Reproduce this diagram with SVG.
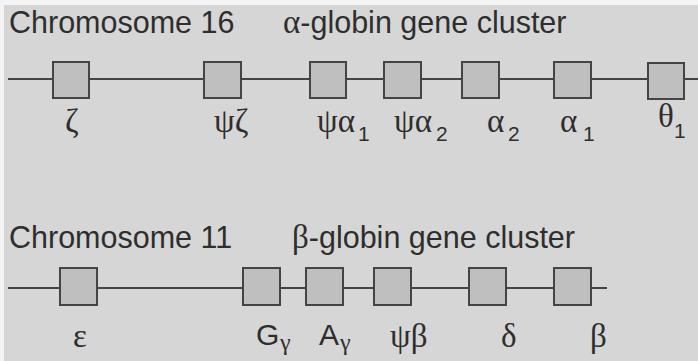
<svg xmlns="http://www.w3.org/2000/svg" width="698" height="361" viewBox="0 0 698 361">
<style>
.bg{fill:#d6d6d6}
.chr{stroke:#444;stroke-width:2;fill:none}
.gene{fill:#bfbfbf;stroke:#444;stroke-width:2}
.title{font-family:"Liberation Sans",Arial,sans-serif;font-size:30.5px;fill:#2e2e2e}
.gr{font-family:"Liberation Serif","Times New Roman",serif;font-size:33px;fill:#2e2e2e}
.sub{font-family:"Liberation Sans",Arial,sans-serif;font-size:21px;fill:#2e2e2e}
.cap{font-family:"Liberation Sans",Arial,sans-serif;font-size:30px;fill:#2e2e2e}
.gsub{font-family:"Liberation Serif","Times New Roman",serif;font-size:24px;fill:#2e2e2e}
.serif{font-family:"Liberation Serif","Times New Roman",serif;font-size:33px}
</style>
<rect width="698" height="361" fill="#f4f4f4"/>
<rect class="bg" x="4" y="5" width="694" height="356"/>

<text class="title" x="9" y="33">Chromosome 16</text>
<text class="title" x="283" y="33"><tspan class="serif">α</tspan>-globin gene cluster</text>
<text class="title" x="9" y="248">Chromosome 11</text>
<text class="title" x="292" y="248"><tspan class="serif">β</tspan>-globin gene cluster</text>

<g id="connectors">
<line class="chr" x1="8" y1="79" x2="698" y2="79"/>
<line class="chr" x1="8" y1="288" x2="607" y2="288"/>
</g>

<g id="zeta"><rect class="gene" x="53" y="62" width="36" height="36"/><text class="gr" x="65" y="132">ζ</text></g>
<g id="psi-zeta"><rect class="gene" x="204" y="62" width="37" height="36"/><text class="gr" x="214" y="132">ψζ</text></g>
<g id="psi-alpha1"><rect class="gene" x="310" y="62" width="36" height="36"/><text class="gr" x="317" y="132">ψα</text><text class="sub" x="358" y="141">1</text></g>
<g id="psi-alpha2"><rect class="gene" x="384" y="62" width="37" height="36"/><text class="gr" x="394" y="132">ψα</text><text class="sub" x="436" y="141">2</text></g>
<g id="alpha2"><rect class="gene" x="462" y="62" width="37" height="36"/><text class="gr" x="487" y="132">α</text><text class="sub" x="508" y="141">2</text></g>
<g id="alpha1"><rect class="gene" x="554" y="62" width="37" height="36"/><text class="gr" x="560" y="132">α</text><text class="sub" x="583" y="141">1</text></g>
<g id="theta1"><rect class="gene" x="648" y="63" width="36" height="36"/><text class="gr" x="658" y="127">θ</text><text class="sub" x="674" y="138">1</text></g>

<g id="epsilon"><rect class="gene" x="60" y="268" width="37" height="37"/><text class="gr" x="73" y="347">ε</text></g>
<g id="G-gamma"><rect class="gene" x="243" y="268" width="37" height="37"/><text class="cap" x="256" y="345">G</text><text class="gsub" x="280" y="350">γ</text></g>
<g id="A-gamma"><rect class="gene" x="306" y="268" width="37" height="37"/><text class="cap" x="319" y="345">A</text><text class="gsub" x="340" y="350">γ</text></g>
<g id="psi-beta"><rect class="gene" x="374" y="268" width="37" height="37"/><text class="gr" x="390" y="347">ψβ</text></g>
<g id="delta"><rect class="gene" x="469" y="268" width="37" height="37"/><text class="gr" x="501" y="347">δ</text></g>
<g id="beta"><rect class="gene" x="554" y="268" width="37" height="37"/><text class="gr" x="590" y="347">β</text></g>
</svg>
